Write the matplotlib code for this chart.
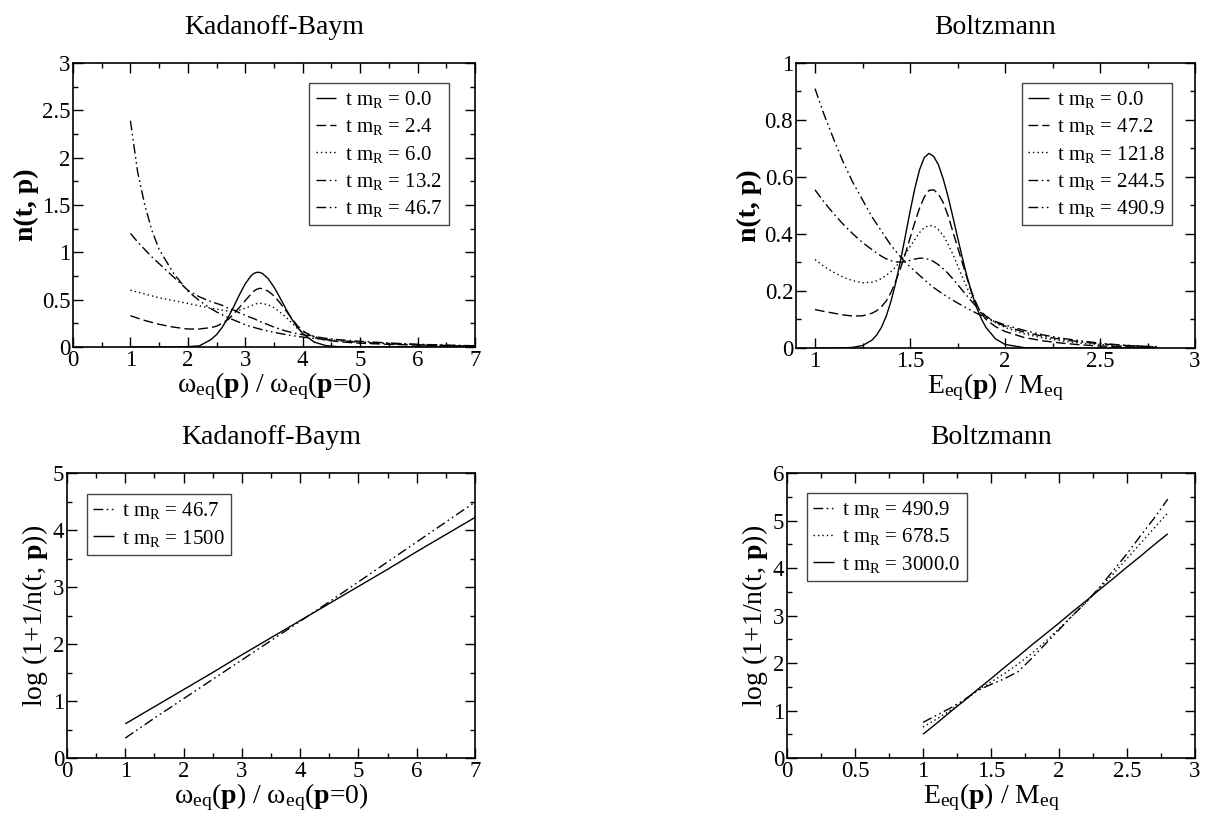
import matplotlib
matplotlib.use("Agg")
import matplotlib.pyplot as plt
from matplotlib.ticker import MultipleLocator, FormatStrFormatter

plt.rcParams['font.family'] = ['Liberation Serif', 'DejaVu Serif']
plt.rcParams['mathtext.fontset'] = 'custom'
plt.rcParams['mathtext.rm'] = 'Liberation Serif'
plt.rcParams['mathtext.bf'] = 'Liberation Serif:bold'
plt.rcParams['mathtext.it'] = 'Liberation Serif:italic'

# ---------------- data ----------------
# Top-left: Kadanoff-Baym n(t,p)
kb_x = [1.0, 1.125, 1.25, 1.375, 1.5, 1.75, 2.0, 2.2, 2.4, 2.5, 2.6, 2.7, 2.8, 2.9, 3.0, 3.1,
        3.15, 3.2, 3.25, 3.3, 3.4, 3.5, 3.6, 3.7, 3.8, 3.9, 4.0, 4.2, 4.4, 4.6, 4.8, 5.0,
        5.5, 6.0, 6.5, 7.0]
kb_t0 = [0.0, 0.0, 0.0, 0.0, 0.0, 0.0, 0.004, 0.012, 0.077, 0.131, 0.209, 0.310, 0.429, 0.554,
         0.668, 0.752, 0.777, 0.789, 0.788, 0.776, 0.721, 0.633, 0.525, 0.411, 0.304, 0.213,
         0.141, 0.052, 0.015, 0.004, 0.001, 0.0, 0.0, 0.0, 0.0, 0.0]
kb_t2 = [0.33, 0.305, 0.28, 0.26, 0.24, 0.21, 0.19, 0.19, 0.205, 0.22, 0.25, 0.29, 0.35, 0.42,
         0.49, 0.56, 0.59, 0.61, 0.62, 0.615, 0.59, 0.54, 0.47, 0.39, 0.31, 0.23, 0.17, 0.10,
         0.072, 0.058, 0.048, 0.04, 0.028, 0.02, 0.013, 0.008]
kb_t6 = [0.60, 0.58, 0.56, 0.54, 0.52, 0.49, 0.46, 0.435, 0.41, 0.40, 0.39, 0.38, 0.38, 0.39,
         0.41, 0.435, 0.448, 0.458, 0.462, 0.46, 0.445, 0.415, 0.37, 0.32, 0.26, 0.20, 0.16,
         0.11, 0.085, 0.07, 0.06, 0.053, 0.037, 0.025, 0.017, 0.011]
kb_t13 = [1.20, 1.11, 1.03, 0.95, 0.88, 0.74, 0.60, 0.53, 0.48, 0.46, 0.44, 0.41, 0.39, 0.36,
          0.335, 0.31, 0.30, 0.285, 0.27, 0.26, 0.235, 0.21, 0.19, 0.17, 0.155, 0.14, 0.13,
          0.11, 0.092, 0.079, 0.069, 0.06, 0.042, 0.029, 0.02, 0.013]
kb_t46 = [2.39, 1.85, 1.50, 1.23, 1.03, 0.78, 0.59, 0.49, 0.405, 0.37, 0.34, 0.31, 0.285, 0.26,
          0.235, 0.215, 0.207, 0.198, 0.19, 0.182, 0.168, 0.155, 0.143, 0.132, 0.122, 0.113,
          0.105, 0.09, 0.078, 0.067, 0.057, 0.049, 0.034, 0.023, 0.016, 0.011]
kb_labels = ["0.0", "2.4", "6.0", "13.2", "46.7"]

# Top-right: Boltzmann n(t,p)
bz_x = [1.0, 1.05, 1.1, 1.15, 1.2, 1.25, 1.3, 1.325, 1.35, 1.375, 1.4, 1.425, 1.45, 1.475,
        1.5, 1.525, 1.55, 1.575, 1.6, 1.625, 1.65, 1.675, 1.7, 1.725, 1.75, 1.775, 1.8,
        1.825, 1.85, 1.875, 1.9, 1.95, 2.0, 2.1, 2.2, 2.3, 2.4, 2.5, 2.6, 2.7, 2.8]
bz_t0 = [0.0, 0.0, 0.0001, 0.0005, 0.0023, 0.0086, 0.0275, 0.046, 0.073, 0.112, 0.164, 0.229,
         0.306, 0.391, 0.478, 0.559, 0.625, 0.668, 0.683, 0.672, 0.642, 0.593, 0.532, 0.462,
         0.389, 0.318, 0.251, 0.193, 0.143, 0.103, 0.072, 0.032, 0.0125, 0.0013, 0.0, 0.0,
         0.0, 0.0, 0.0, 0.0, 0.0]
bz_t47 = [0.135, 0.128, 0.122, 0.116, 0.112, 0.113, 0.122, 0.131, 0.145, 0.165, 0.195, 0.235,
          0.28, 0.33, 0.385, 0.44, 0.49, 0.53, 0.553, 0.555, 0.54, 0.51, 0.465, 0.41, 0.355,
          0.30, 0.245, 0.195, 0.155, 0.122, 0.10, 0.075, 0.058, 0.037, 0.025, 0.017, 0.011,
          0.007, 0.005, 0.003, 0.002]
bz_t121 = [0.31, 0.285, 0.265, 0.248, 0.236, 0.229, 0.231, 0.236, 0.244, 0.255, 0.268, 0.285,
           0.305, 0.33, 0.355, 0.38, 0.405, 0.422, 0.43, 0.428, 0.415, 0.395, 0.365, 0.33,
           0.29, 0.25, 0.212, 0.176, 0.145, 0.122, 0.107, 0.088, 0.072, 0.05, 0.035, 0.025,
           0.017, 0.012, 0.008, 0.005, 0.003]
bz_t244 = [0.555, 0.51, 0.47, 0.433, 0.40, 0.37, 0.345, 0.333, 0.322, 0.313, 0.306, 0.302,
           0.301, 0.303, 0.307, 0.312, 0.315, 0.315, 0.311, 0.303, 0.292, 0.278, 0.262, 0.243,
           0.223, 0.203, 0.183, 0.163, 0.145, 0.127, 0.112, 0.09, 0.077, 0.056, 0.041, 0.03,
           0.021, 0.015, 0.01, 0.007, 0.004]
bz_t490 = [0.91, 0.815, 0.73, 0.65, 0.58, 0.52, 0.46, 0.435, 0.41, 0.385, 0.36, 0.34, 0.32,
           0.302, 0.285, 0.27, 0.255, 0.24, 0.225, 0.212, 0.20, 0.189, 0.178, 0.168, 0.158,
           0.149, 0.14, 0.131, 0.122, 0.114, 0.107, 0.093, 0.081, 0.062, 0.046, 0.034, 0.025,
           0.017, 0.011, 0.007, 0.004]
bz_labels = ["0.0", "47.2", "121.8", "244.5", "490.9"]

# Bottom-left: Kadanoff-Baym log(1+1/n)
kbl_x = [1.0, 1.5, 2.0, 2.5, 3.0, 3.5, 4.0, 4.5, 5.0, 5.5, 6.0, 6.5, 7.0]
kbl_t46 = [0.35, 0.70, 1.04, 1.38, 1.72, 2.06, 2.40, 2.74, 3.09, 3.44, 3.79, 4.14, 4.49]
kbl_t1500 = [0.60, 0.90, 1.20, 1.50, 1.81, 2.11, 2.41, 2.71, 3.01, 3.31, 3.62, 3.92, 4.22]
kbl_labels = ["46.7", "1500"]

# Bottom-right: Boltzmann log(1+1/n)
bzl_x = [1.0, 1.1, 1.2, 1.3, 1.4, 1.5, 1.6, 1.7, 1.8, 1.9, 2.0, 2.1, 2.2, 2.3, 2.4, 2.5, 2.6, 2.7, 2.8]
bzl_t490 = [0.75, 0.90, 1.05, 1.22, 1.42, 1.55, 1.67, 1.82, 2.10, 2.40, 2.70, 3.00, 3.28, 3.60,
            3.95, 4.30, 4.68, 5.05, 5.45]
bzl_t678 = [0.65, 0.82, 1.00, 1.20, 1.42, 1.60, 1.78, 1.98, 2.20, 2.45, 2.72, 3.00, 3.28, 3.58,
            3.88, 4.20, 4.52, 4.84, 5.16]
bzl_t3000 = [0.50, 0.73, 0.97, 1.20, 1.44, 1.67, 1.91, 2.14, 2.38, 2.61, 2.84, 3.08, 3.31, 3.55,
             3.78, 4.02, 4.25, 4.49, 4.72]
bzl_labels = ["490.9", "678.5", "3000.0"]

# ---------------- styles ----------------
SOLID = (0, ())
DASH = (0, (7, 3))
DOT = (0, (1, 2.2))
DASHDOT = (0, (7, 2.5, 1.2, 2.5))
DASHDOTDOT = (0, (7, 2.5, 1.2, 2.5, 1.2, 2.5))
LW = 1.0

W, H = 1206, 821
fig = plt.figure(figsize=(W / 100, H / 100), dpi=100)


def add_ax(l, r, t, b):
    return fig.add_axes([l / W, 1 - b / H, (r - l) / W, (b - t) / H])


ax_tl = add_ax(73, 475, 63, 347)
ax_tr = add_ax(796, 1195, 63, 348)
ax_bl = add_ax(67, 475, 473, 758)
ax_br = add_ax(787, 1195, 473, 758)

TICK_FS = 16.5
LAB_FS = 20
TITLE_FS = 20
TITLE_PAD = 21
LEG_FS = 15


def style(ax, xlim, ylim, xmaj, xmin, ymaj, ymin):
    ax.set_xlim(*xlim)
    ax.set_ylim(*ylim)
    ax.xaxis.set_major_locator(MultipleLocator(xmaj))
    ax.xaxis.set_minor_locator(MultipleLocator(xmin))
    ax.yaxis.set_major_locator(MultipleLocator(ymaj))
    ax.yaxis.set_minor_locator(MultipleLocator(ymin))
    ax.xaxis.set_major_formatter(FormatStrFormatter('%g'))
    ax.yaxis.set_major_formatter(FormatStrFormatter('%g'))
    ax.tick_params(which='both', direction='in', top=True, right=True, width=1.0,
                   labelsize=TICK_FS)
    ax.tick_params(which='major', length=7, pad=2)
    ax.tick_params(which='minor', length=3.5)
    for s in ax.spines.values():
        s.set_linewidth(1.2)


def legend(ax, loc, anchor):
    lg = ax.legend(loc=loc, bbox_to_anchor=anchor, borderaxespad=0, fontsize=LEG_FS,
                   frameon=True, fancybox=False, framealpha=1, edgecolor='#444444',
                   handlelength=1.0, handletextpad=0.4, labelspacing=0.3,
                   borderpad=0.3)
    lg.get_frame().set_linewidth(1.0)


def lbl(v):
    return "t m$_{\\mathrm{R}}$ = " + v


omega_lbl = "ω$_{\\mathrm{eq}}$($\\mathbf{p}$) / ω$_{\\mathrm{eq}}$($\\mathbf{p}$=0)"
e_lbl = "E$_{\\mathrm{eq}}$($\\mathbf{p}$) / M$_{\\mathrm{eq}}$"
log_lbl = "log (1+1/n(t, $\\mathbf{p}$))"

# Top-left
for y, ls, v in zip([kb_t0, kb_t2, kb_t6, kb_t13, kb_t46],
                    [SOLID, DASH, DOT, DASHDOT, DASHDOTDOT], kb_labels):
    ax_tl.plot(kb_x, y, color='black', lw=LW, linestyle=ls, label=lbl(v))
style(ax_tl, (0, 7), (0, 3), 1, 0.5, 0.5, 0.25)
ax_tl.set_title("Kadanoff-Baym", fontsize=TITLE_FS, pad=TITLE_PAD)
ax_tl.set_xlabel(omega_lbl, fontsize=LAB_FS, labelpad=0)
ax_tl.set_ylabel("n(t, p)", fontsize=LAB_FS, fontweight='bold', labelpad=2)
legend(ax_tl, 'upper right', (0.935, 0.93))

# Top-right
for y, ls, v in zip([bz_t0, bz_t47, bz_t121, bz_t244, bz_t490],
                    [SOLID, DASH, DOT, DASHDOT, DASHDOTDOT], bz_labels):
    ax_tr.plot(bz_x, y, color='black', lw=LW, linestyle=ls, label=lbl(v))
style(ax_tr, (0.9, 3), (0, 1), 0.5, 0.25, 0.2, 0.1)
ax_tr.set_title("Boltzmann", fontsize=TITLE_FS, pad=TITLE_PAD)
ax_tr.set_xlabel(e_lbl, fontsize=LAB_FS, labelpad=0)
ax_tr.set_ylabel("n(t, p)", fontsize=LAB_FS, fontweight='bold', labelpad=2)
legend(ax_tr, 'upper right', (0.942, 0.93))

# Bottom-left
for y, ls, v in zip([kbl_t46, kbl_t1500], [DASHDOTDOT, SOLID], kbl_labels):
    ax_bl.plot(kbl_x, y, color='black', lw=LW, linestyle=ls, label=lbl(v))
style(ax_bl, (0, 7), (0, 5), 1, 0.5, 1, 0.5)
ax_bl.set_title("Kadanoff-Baym", fontsize=TITLE_FS, pad=TITLE_PAD)
ax_bl.set_xlabel(omega_lbl, fontsize=LAB_FS, labelpad=0)
ax_bl.set_ylabel(log_lbl, fontsize=LAB_FS, labelpad=2)
legend(ax_bl, 'upper left', (0.049, 0.926))

# Bottom-right
for y, ls, v in zip([bzl_t490, bzl_t678, bzl_t3000], [DASHDOTDOT, DOT, SOLID], bzl_labels):
    ax_br.plot(bzl_x, y, color='black', lw=LW, linestyle=ls, label=lbl(v))
style(ax_br, (0, 3), (0, 6), 0.5, 0.25, 1, 0.5)
ax_br.set_title("Boltzmann", fontsize=TITLE_FS, pad=TITLE_PAD)
ax_br.set_xlabel(e_lbl, fontsize=LAB_FS, labelpad=0)
ax_br.set_ylabel(log_lbl, fontsize=LAB_FS, labelpad=2)
legend(ax_br, 'upper left', (0.049, 0.93))

fig.savefig("out.png", dpi=100)
